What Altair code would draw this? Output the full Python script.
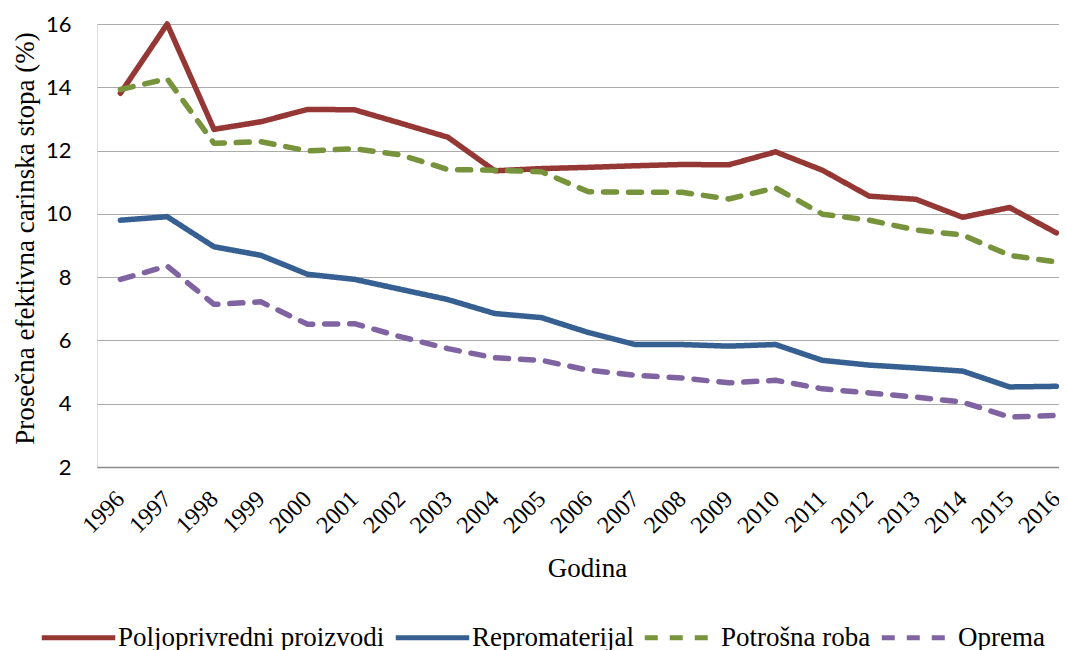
import altair as alt
import pandas as pd

years = list(range(1996, 2017))
series_names = ["Poljoprivredni proizvodi", "Repromaterijal", "Potrošna roba", "Oprema"]
poljo = [13.81, 16.0, 12.67, 12.91, 13.30, 13.29, 12.86, 12.42, 11.36, 11.43, 11.47,
         11.52, 11.56, 11.55, 11.96, 11.38, 10.56, 10.46, 9.89, 10.20, 9.40]
repro = [9.80, 9.91, 8.96, 8.69, 8.09, 7.93, 7.61, 7.29, 6.85, 6.72, 6.25,
         5.87, 5.87, 5.82, 5.87, 5.37, 5.22, 5.13, 5.03, 4.53, 4.55]
potros = [13.93, 14.27, 12.23, 12.28, 11.99, 12.06, 11.86, 11.40, 11.38, 11.33, 10.70,
          10.68, 10.68, 10.47, 10.82, 9.99, 9.80, 9.49, 9.33, 8.69, 8.48]
oprema = [7.93, 8.35, 7.14, 7.22, 6.51, 6.53, 6.11, 5.74, 5.45, 5.37, 5.06,
          4.90, 4.81, 4.66, 4.74, 4.47, 4.34, 4.21, 4.05, 3.58, 3.63]
y_ticks = [2, 4, 6, 8, 10, 12, 14, 16]

colors = ["#953735", "#376092", "#77933C", "#8064A2"]
dashes = [[1, 0], [1, 0], [13, 12], [13, 12]]

rows = []
for name, vals in zip(series_names, [poljo, repro, potros, oprema]):
    for yr, v in zip(years, vals):
        rows.append({"Godina": yr, "Serija": name, "Vrednost": v})
df = pd.DataFrame(rows)

serif = "Liberation Serif"


def make_legend():
    return alt.Legend(orient="none", legendX=-58, legendY=574,
                      direction="horizontal", title=None,
                      symbolType="stroke", symbolSize=5400,
                      symbolStrokeWidth=5, labelFont=serif,
                      labelFontSize=27, labelColor="black",
                      labelOffset=0, columnPadding=0, labelLimit=500)


chart = alt.Chart(df).mark_line(strokeWidth=5.5, strokeCap="round", strokeJoin="round").encode(
    x=alt.X("Godina:Q",
            scale=alt.Scale(domain=[1995.5, 2016.056], nice=False, zero=False),
            axis=alt.Axis(values=years, format="d", labelAngle=-45, labelAlign="right",
                          labelBaseline="middle", labelPadding=28, labelFont=serif,
                          labelFontSize=24, labelColor="black", labelFlush=False,
                          labelOverlap=False, grid=False, ticks=False,
                          domainColor="#8c8c8c", domainWidth=1.5,
                          title="Godina", titleFont=serif, titleFontSize=27,
                          titleFontWeight="normal", titleColor="black",
                          titleX=490, titleY=109, titleBaseline="alphabetic")),
    y=alt.Y("Vrednost:Q",
            scale=alt.Scale(domain=[2, 16], nice=False, zero=False),
            axis=alt.Axis(values=y_ticks, grid=True, gridColor="#ABABAB", gridWidth=1.2,
                          domain=False, ticks=False, labelFont="Lato", labelFontSize=22,
                          labelColor="black", labelPadding=26,
                          title="Prosečna efektivna carinska stopa (%)", titleFont=serif,
                          titleFontSize=27, titleFontWeight="normal", titleColor="black",
                          titleX=-72, titleY=214, titleBaseline="middle")),
    color=alt.Color("Serija:N",
                    scale=alt.Scale(domain=series_names, range=colors),
                    legend=make_legend()),
    strokeDash=alt.StrokeDash("Serija:N",
                              scale=alt.Scale(domain=series_names, range=dashes),
                              legend=make_legend()),
).properties(
    width=962, height=443,
    autosize=alt.AutoSizeParams(type="none"),
    padding={"left": 89, "top": 16, "right": 0, "bottom": 183},
).configure_view(stroke=None).configure(background="white")

chart.save("out.html", embed_options={"renderer": "svg", "actions": False})
